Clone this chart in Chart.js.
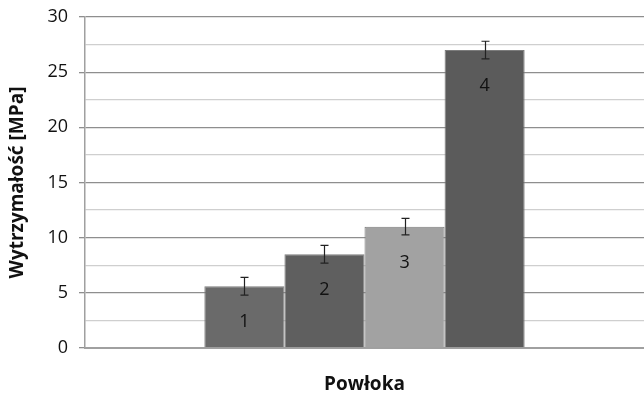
<!DOCTYPE html>
<html>
<head>
<meta charset="utf-8">
<script src="https://cdn.jsdelivr.net/npm/chart.js@4"></script>
<style>
  body { margin: 0; background: #fff; }
  #chart { display: block; }
</style>
</head>
<body>
<canvas id="chart" width="644" height="396"></canvas>
<script>
const categories = ["Powłoka"]
const seriesNames = ["1", "2", "3", "4"]
const values = [5.6, 8.5, 11.0, 27.0]
const errors = [0.8, 0.8, 0.75, 0.8]
const barColors = ["#6a6a6a", "#5f5f5f", "#a2a2a2", "#5b5b5b"]
const yTicks = [0, 5, 10, 15, 20, 25, 30]

const FONT = "'Open Sans', 'Liberation Sans', sans-serif";

// error bars with caps
const errorBarPlugin = {
    id: "errorBars",
    afterDatasetsDraw(chart) {
        const ctx = chart.ctx;
        const y = chart.scales.y;
        ctx.save();
        ctx.strokeStyle = "#222";
        ctx.lineWidth = 1.2;
        chart.data.datasets.forEach((ds, i) => {
            const bar = chart.getDatasetMeta(i).data[0];
            const v = ds.data[0];
            const e = errors[i];
            const x = Math.round(bar.x) + 0.5;
            const yTop = y.getPixelForValue(v + e);
            const yBot = y.getPixelForValue(v - e);
            ctx.beginPath();
            ctx.moveTo(x, yTop); ctx.lineTo(x, yBot);
            ctx.moveTo(x - 4, yTop); ctx.lineTo(x + 4, yTop);
            ctx.moveTo(x - 4, yBot); ctx.lineTo(x + 4, yBot);
            ctx.stroke();
        });
        ctx.restore();
    }
};

// series number inside each bar
const barLabelPlugin = {
    id: "barLabels",
    afterDatasetsDraw(chart) {
        const ctx = chart.ctx;
        ctx.save();
        ctx.font = "18px " + FONT;
        ctx.fillStyle = "#111";
        ctx.textAlign = "center";
        ctx.textBaseline = "middle";
        chart.data.datasets.forEach((ds, i) => {
            const bar = chart.getDatasetMeta(i).data[0];
            ctx.fillText(ds.label, bar.x, bar.y + 36);
        });
        ctx.restore();
    }
};

new Chart(document.getElementById("chart"), {
    type: "bar",
    data: {
        labels: categories,
        datasets: seriesNames.map((name, i) => ({
            label: name,
            data: [values[i]],
            backgroundColor: barColors[i],
            borderColor: "#7c7c7c",
            borderWidth: 1,
            borderSkipped: "bottom",
            barPercentage: 1.0,
            categoryPercentage: 0.573
        }))
    },
    options: {
        responsive: false,
        animation: false,
        layout: { padding: { top: 17, right: 0, left: 0, bottom: 0 } },
        plugins: {
            legend: { display: false },
            tooltip: { enabled: false }
        },
        scales: {
            x: {
                ticks: { display: false },
                grid: { display: false },
                border: { color: "#a0a0a0", width: 2 },
                title: {
                    display: true,
                    text: "Powłoka",
                    font: { family: FONT, size: 19, weight: "bold" },
                    color: "#111",
                    padding: { top: 20, bottom: 0 }
                },
                afterFit: scale => { scale.height = 48; }
            },
            y: {
                min: 0,
                max: 30,
                ticks: {
                    stepSize: 2.5,
                    padding: 11,
                    color: "#111",
                    font: { family: FONT, size: 18 },
                    callback: v => yTicks.includes(v) ? v : ""
                },
                grid: {
                    tickLength: 6,
                    lineWidth: 1.3,
                    color: c => (c.tick && c.tick.value % 5 === 0) ? "#8e8e8e" : "#cfcfcf",
                    tickColor: c => (c.tick && c.tick.value % 5 === 0) ? "#8e8e8e" : "rgba(0,0,0,0)"
                },
                border: { color: "#a0a0a0", width: 1.5 },
                title: {
                    display: true,
                    text: "Wytrzymałość [MPa]",
                    font: { family: FONT, size: 19, weight: "bold" },
                    color: "#111",
                    padding: { top: 6, bottom: 0 }
                },
                afterFit: scale => {
                    scale.width = 85;
                    scale.paddingTop = 0;
                    scale.paddingBottom = 0;
                }
            }
        }
    },
    plugins: [errorBarPlugin, barLabelPlugin]
});
</script>
</body>
</html>
